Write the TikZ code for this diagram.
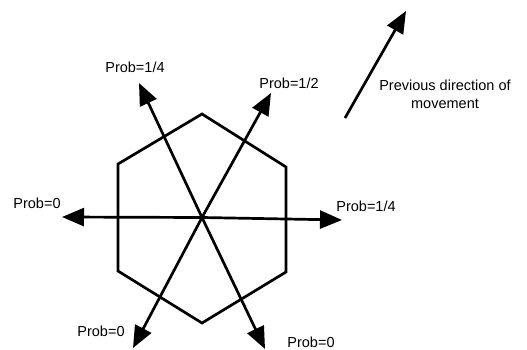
\documentclass[tikz,border=0pt]{standalone}
\usepackage{fontspec}
\setmainfont{Liberation Sans}
\usetikzlibrary{arrows.meta}
\begin{document}
\begin{tikzpicture}[x=1pt,y=-1pt,
  ln/.style={line width=2.7pt},
  arr/.style={ln,-{Triangle[length=22pt,width=18pt]}},
  lbl/.style={font=\fontsize{14.5}{16}\selectfont,inner sep=0pt},
  hex/.style={ln,line join=miter}]
\useasboundingbox (0,0) rectangle (527,350);
\coordinate (c) at (202,217.5);
% hexagon
\coordinate (h1) at (202,114);
\coordinate (h2) at (286,167);
\coordinate (h3) at (286,272);
\coordinate (h4) at (202,323);
\coordinate (h5) at (118,271);
\coordinate (h6) at (118,164);
\draw[hex] (h1) -- (h2) -- (h3) -- (h4) -- (h5) -- (h6) -- cycle;
% arrow tips
\coordinate (tl) at (62,217);
\coordinate (tr) at (342,220);
\coordinate (tul) at (139,83);
\coordinate (tur) at (271,93);
\coordinate (tdl) at (133,348);
\coordinate (tdr) at (265,349);
\draw[arr] (c) -- (tl);
\draw[arr] (c) -- (tr);
\draw[arr] (c) -- (tul);
\draw[arr] (c) -- (tur);
\draw[arr] (c) -- (tdl);
\draw[arr] (c) -- (tdr);
% previous direction
\coordinate (p0) at (345,118);
\coordinate (p1) at (406,11);
\draw[arr] (p0) -- (p1);
% labels
\node[lbl] (lul) at (135,67) {Prob=1/4};
\node[lbl] (lur) at (289,83) {Prob=1/2};
\node[lbl] (ll) at (37,203) {Prob=0};
\node[lbl] (lr) at (366,206) {Prob=1/4};
\node[lbl] (ldl) at (101,331) {Prob=0};
\node[lbl] (ldr) at (311,342) {Prob=0};
\node[lbl,align=center] (lp) at (445,94) {Previous direction of\\[2pt]movement};
\end{tikzpicture}
\end{document}
